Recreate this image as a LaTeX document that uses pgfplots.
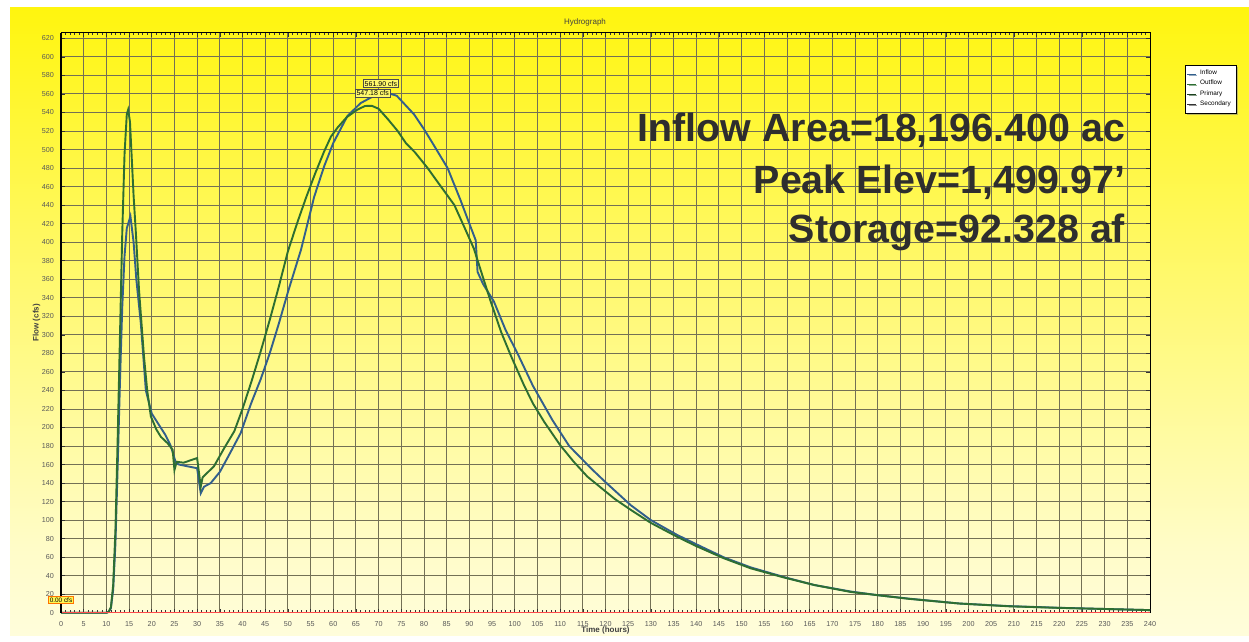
\documentclass[border=0pt]{standalone}
\usepackage{pgfplots}
\pgfplotsset{compat=1.18}
\usepackage{fontspec}
\setmainfont{Liberation Sans}
\usetikzlibrary{shadows}
\definecolor{ybg}{RGB}{255,245,10}
\definecolor{ymid}{RGB}{255,248,90}
\definecolor{ylow}{RGB}{255,252,200}
\definecolor{cgreen}{RGB}{45,110,50}
\definecolor{cblue}{RGB}{50,95,140}
\definecolor{gridc}{RGB}{115,112,85}
\pgfdeclareverticalshading{bgshade}{100bp}{color(0bp)=(white); color(12bp)=(white); color(32bp)=(ylow); color(58bp)=(ymid); color(76bp)=(ybg); color(100bp)=(ybg)}
\begin{document}
\begin{tikzpicture}
\fill[white] (0,0) rectangle (624.5pt,321pt);
\shade[shading=bgshade] (5pt,3pt) rectangle (624.5pt,317pt);
\node[font=\fontsize{4}{4}\selectfont, text=black!75] at (292.5pt,310pt) {Hydrograph};
\begin{axis}[
  at={(30.5pt,14.6pt)}, anchor=south west,
  scale only axis, width=544.5pt, height=290pt,
  xmin=0, xmax=240, ymin=0, ymax=626,
  axis line style={black, line width=0.5pt},
  xtick={0,5,...,240}, ytick={0,20,...,620},
  minor x tick num=4,
  tick align=inside,
  major tick length=2pt, minor tick length=1.2pt,
  tick style={black!80, line width=0.3pt},
  grid=major,
  major grid style={gridc, line width=0.45pt},
  ticklabel style={font=\fontsize{3.6}{3.6}\selectfont, text=black!65},
  /pgf/number format/assume math mode=true,
  xticklabel style={yshift=-1pt},
  xlabel={Time (hours)}, ylabel={Flow (cfs)},
  xlabel style={font=\fontsize{4}{4}\selectfont\bfseries, text=black!75, yshift=7pt},
  ylabel style={font=\fontsize{4}{4}\selectfont\bfseries, text=black!75, yshift=-6pt},
  legend style={at={(1.032,0.945)}, anchor=north west, draw=black, fill=white,
     font=\fontsize{3.2}{3.2}\selectfont, drop shadow={shadow xshift=0.8pt, shadow yshift=-0.8pt},
     inner sep=0.6pt, row sep=-2.8pt, legend cell align=left},
  legend image post style={line width=0.6pt},
  legend image code/.code={\draw[#1] (0cm,0cm) -- (0.15cm,0cm);},
  clip=false,
]
\addplot[cblue, line width=0.95pt] coordinates {
(0,0) (10,0) (10.5,1) (11,5) (11.5,25) (12,75) (12.5,160) (13,250) (13.5,330) (14,385) (14.5,415) (15.3,428) (16,400) (16.6,360) (17.6,312) (18.7,240) (20,215) (21.3,205) (23,192) (24.2,180) (25.3,162) (26,160) (28,158) (30,156) (30.8,129) (31.5,136) (33,140) (35,152) (37,170) (39.6,194) (41.9,226) (44,252) (46,280) (48,312) (50,346) (52.9,392) (55.8,449) (58,482) (60,507) (63.1,536) (66,550) (69,558) (71.5,561.9) (74,558) (77.8,538) (80,522) (82,506) (85.2,480) (88,446) (90,420) (91.4,402) (91.8,368) (93,355) (95.4,336) (98,305) (100.6,280) (104,245) (108.3,208) (112,180) (117,155) (120,141) (125.6,116) (130,100) (135.8,84) (140,74) (146,60) (152,49) (159.4,38.5) (166,30) (174,23) (180,19) (187,15.2) (198,10) (209,7.2) (220,5.4) (231,4) (240,2.9)
};
\addlegendentry{Inflow}
\addplot[cgreen, line width=0.95pt] coordinates {
(0,0) (10,0) (10.5,1) (11,6) (11.5,30) (12,90) (12.5,190) (13,300) (13.5,410) (14,495) (14.5,538) (14.8,543) (15.2,530) (15.6,490) (16,450) (16.5,410) (17.2,348) (18.3,276) (19,240) (19.8,212) (21,198) (22,190) (23.5,183) (24.6,176) (25,154) (25.5,163) (27,162) (30,167) (30.8,136) (31.2,146) (32,150) (33.7,158) (36,178) (38.2,196) (40,220) (42,250) (44,282) (46,316) (48,352) (50,390) (52,420) (54,448) (56,474) (58,498) (59.5,514) (61,524) (63,535) (65.3,543) (67,547) (68.5,547.2) (70,544) (72,533) (74.2,520) (76,507) (78,497) (80.8,480) (83,465) (86.7,440) (89,415) (91,393) (93,362) (94.7,336) (97,303) (99.1,278) (102,246) (104,226) (106.5,206) (110,181) (113,163) (116,147) (119,135) (122,123) (125.6,111) (130,97) (135.8,82) (140,72) (146,59) (152,48) (159.4,38) (166,30) (174,22.5) (180,19) (187,15) (198,10) (209,7) (220,5.3) (231,4) (240,2.9)
};
\addlegendentry{Outflow}
\addlegendimage{cgreen!60!black}
\addlegendentry{Primary}
\addplot[red!70, line width=0.4pt, forget plot] coordinates {(0,0) (240,0)};
\addlegendimage{black!80}
\addlegendentry{Secondary}
\draw[black, line width=1.1pt] (rel axis cs:0,0) -- (rel axis cs:0,1);
\node[font=\fontsize{19.7}{19.7}\selectfont\bfseries, text=black!82, anchor=east, inner sep=0pt] at (axis cs:234.6,521) {Inflow Area=18,196.400 ac};
\node[font=\fontsize{19.7}{19.7}\selectfont\bfseries, text=black!82, anchor=east, inner sep=0pt] at (axis cs:234.6,465) {Peak Elev=1,499.97'};
\node[font=\fontsize{19.7}{19.7}\selectfont\bfseries, text=black!82, anchor=east, inner sep=0pt] at (axis cs:234.6,411) {Storage=92.328 af};
\node[font=\fontsize{3.5}{3.5}\selectfont, draw=black!70, fill=ybg!60!white, inner sep=0.7pt, line width=0.3pt] at (axis cs:70.5,571) {561.90 cfs};
\node[font=\fontsize{3.5}{3.5}\selectfont, draw=black!70, fill=ybg!60!white, inner sep=0.7pt, line width=0.3pt] at (axis cs:68.7,561) {547.18 cfs};
\node[font=\fontsize{3.2}{3.2}\selectfont, draw=orange!90!red, fill=ybg!70!white, inner sep=0.6pt, line width=0.4pt] at (axis cs:0,13.5) {0.00 cfs};
\end{axis}
\end{tikzpicture}
\end{document}
